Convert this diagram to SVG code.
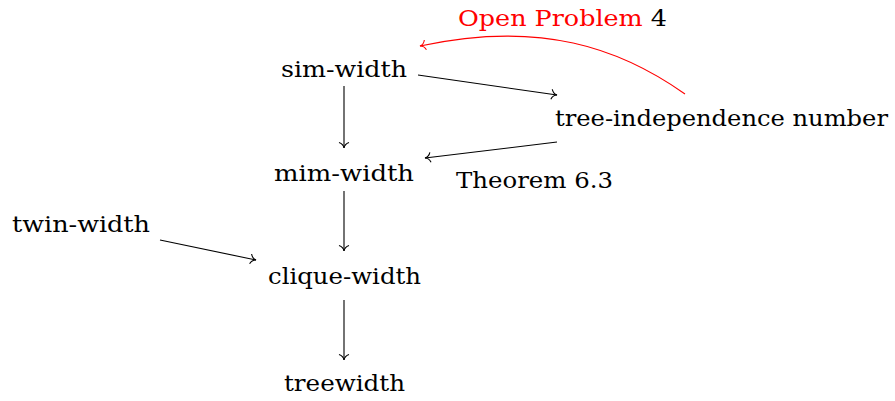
<svg xmlns="http://www.w3.org/2000/svg" width="895" height="401" viewBox="0 0 895 401">
  <style>
    text { font-family: "DejaVu Serif", "Liberation Serif", serif; font-size: 22px; fill: #000; }
    .edge { fill: none; stroke: #000; stroke-width: 1.1; marker-end: url(#to); }
    .red { stroke: #ff0000; marker-end: url(#to-red); }
  </style>
  <defs>
    <marker id="to" viewBox="-7 -6 9 12" markerWidth="9" markerHeight="12" refX="0" refY="0" orient="auto" markerUnits="userSpaceOnUse">
      <path d="M-5.5,-5 C-4.4,-1.7 -1.6,-0.3 0,0 C-1.6,0.3 -4.4,1.7 -5.5,5" fill="none" stroke="#000" stroke-width="1.1"/>
    </marker>
    <marker id="to-red" viewBox="-7 -6 9 12" markerWidth="9" markerHeight="12" refX="0" refY="0" orient="auto" markerUnits="userSpaceOnUse">
      <path d="M-5.5,-5 C-4.4,-1.7 -1.6,-0.3 0,0 C-1.6,0.3 -4.4,1.7 -5.5,5" fill="none" stroke="#ff0000" stroke-width="1.1"/>
    </marker>
  </defs>

  <g id="connectors">
    <path class="edge" d="M344,86 L344,148"/>
    <path class="edge" d="M344,191 L344,251"/>
    <path class="edge" d="M344,300 L344,360"/>
    <path class="edge" d="M418,75 L557,95"/>
    <path class="edge" d="M557,142 L425,158"/>
    <path class="edge" d="M160,240 L256,260"/>
    <path class="edge red" d="M685,94 C620,48 540,20 420,46"/>
    <g id="label-theorem"><text x="456" y="188" textLength="157" lengthAdjust="spacingAndGlyphs">Theorem 6.3</text></g>
    <g id="label-open-problem"><text x="458" y="26" textLength="209" lengthAdjust="spacingAndGlyphs"><tspan fill="#ff0000">Open Problem</tspan> 4</text></g>
  </g>

  <g id="sim-width"><text x="281" y="77" textLength="126" lengthAdjust="spacingAndGlyphs">sim-width</text></g>
  <g id="mim-width"><text x="274" y="181" textLength="140" lengthAdjust="spacingAndGlyphs">mim-width</text></g>
  <g id="clique-width"><text x="268" y="284" textLength="153" lengthAdjust="spacingAndGlyphs">clique-width</text></g>
  <g id="treewidth"><text x="284" y="391" textLength="121" lengthAdjust="spacingAndGlyphs">treewidth</text></g>
  <g id="twin-width"><text x="12" y="232" textLength="138" lengthAdjust="spacingAndGlyphs">twin-width</text></g>
  <g id="tree-independence-number"><text x="555" y="126" textLength="333" lengthAdjust="spacingAndGlyphs">tree-independence number</text></g>
</svg>
